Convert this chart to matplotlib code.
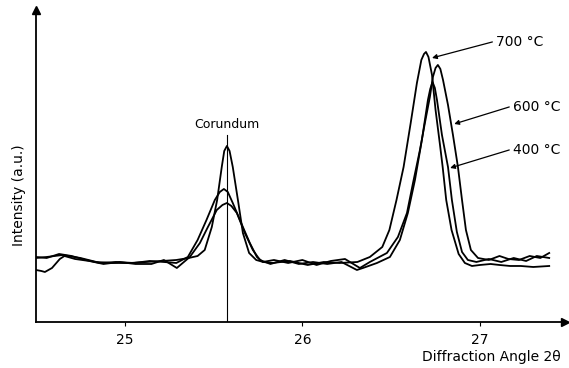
import numpy as np
import matplotlib
matplotlib.use("Agg")
from matplotlib import pyplot as plt

# XRD scans around the corundum reference peak
# (2-theta in degrees, intensity in arbitrary units)
theta_700 = [24.50, 24.56, 24.65, 24.75, 24.84, 24.93, 25.03, 25.12, 25.21, 25.29,
             25.36, 25.41, 25.45, 25.49, 25.52, 25.546, 25.56, 25.575, 25.59, 25.608,
             25.637, 25.665, 25.70, 25.74, 25.78, 25.83, 25.93, 26.03, 26.12, 26.21,
             26.31, 26.38, 26.45, 26.49, 26.53, 26.57, 26.61, 26.645, 26.67, 26.685,
             26.696, 26.71, 26.73, 26.75, 26.775, 26.79, 26.81, 26.84, 26.88, 26.915,
             26.955, 27.00, 27.06, 27.11, 27.17, 27.23, 27.30, 27.39]
inten_700 = [64, 65, 67, 64, 60, 59, 59, 60, 61, 62,
             64, 66, 72, 95, 122, 155, 171, 176, 171, 155,
             122, 89, 69, 62, 60, 59, 61, 57, 60, 59,
             60, 65, 75, 92, 122, 155, 199, 239, 262, 268,
             270, 265, 247, 212, 177, 155, 122, 92, 68, 59,
             56, 57, 58, 57, 56, 56, 55, 56]

theta_600 = [24.50, 24.56, 24.63, 24.70, 24.78, 24.86, 24.95, 25.05, 25.14, 25.22,
             25.29, 25.355, 25.41, 25.46, 25.507, 25.535, 25.558, 25.58, 25.608, 25.665,
             25.704, 25.744, 25.777, 25.84, 25.92, 26.00, 26.08, 26.16, 26.24, 26.324,
             26.38, 26.476, 26.538, 26.589, 26.623, 26.662, 26.69, 26.718, 26.735, 26.75,
             26.763, 26.777, 26.792, 26.82, 26.848, 26.876, 26.899, 26.921, 26.949, 26.989,
             27.05, 27.11, 27.16, 27.22, 27.28, 27.34, 27.39]
inten_600 = [65, 64, 68, 66, 62, 59, 60, 59, 61, 60,
             59, 65, 82, 102, 122, 130, 133, 130, 119, 95,
             79, 65, 60, 62, 59, 62, 57, 61, 63, 54,
             60, 69, 85, 109, 139, 172, 199, 225, 245, 254,
             257, 253, 242, 217, 187, 155, 122, 92, 72, 64,
             62, 66, 63, 62, 66, 64, 69]

theta_400 = [24.50, 24.53, 24.55, 24.59, 24.634, 24.66, 24.72, 24.80, 24.88, 24.97,
             25.06, 25.15, 25.22, 25.293, 25.366, 25.423, 25.468, 25.518, 25.55, 25.575,
             25.60, 25.631, 25.676, 25.721, 25.761, 25.82, 25.90, 25.98, 26.06, 26.14,
             26.22, 26.307, 26.341, 26.42, 26.493, 26.549, 26.594, 26.634, 26.673, 26.707,
             26.72, 26.733, 26.746, 26.758, 26.786, 26.82, 26.842, 26.87, 26.899, 26.932,
             26.98, 27.05, 27.12, 27.19, 27.26, 27.32, 27.39]
inten_400 = [52, 51, 50, 54, 63, 66, 63, 61, 58, 60,
             58, 58, 62, 54, 65, 79, 95, 112, 117, 119,
             116, 109, 89, 72, 62, 58, 62, 58, 60, 58,
             60, 52, 54, 59, 65, 82, 109, 142, 182, 222,
             233, 240, 234, 222, 187, 155, 122, 90, 70, 62,
             60, 63, 60, 64, 61, 66, 64]

corundum_pos = 25.575
xticks = [25, 26, 27]

# label text, arrow tip (theta, I), label anchor (theta, I)
temp_labels = ["700 °C", "600 °C", "400 °C"]
tips = [(26.73, 264), (26.855, 198), (26.832, 154)]
tails = [(27.07, 280), (27.165, 215), (27.165, 172)]

fig = plt.figure(figsize=(5.69, 3.68), dpi=100)
ax = fig.add_axes([0.0633, 0.125, 0.930, 0.848])

for th, it in [(theta_700, inten_700), (theta_600, inten_600), (theta_400, inten_400)]:
    ax.plot(th, it, color="black", lw=1.3, solid_joinstyle="round")

ax.plot([corundum_pos, corundum_pos], [0, 187], color="black", lw=0.8)
ax.text(corundum_pos, 197, "Corundum", ha="center", va="center", fontsize=9)

for lab, tip, tail in zip(temp_labels, tips, tails):
    ax.annotate("", xy=tip, xytext=tail,
                arrowprops=dict(arrowstyle="-|>", color="black", lw=0.9,
                                mutation_scale=7, shrinkA=0, shrinkB=0))
    ax.text(tail[0] + 0.02, tail[1], lab, ha="left", va="center", fontsize=10)

ax.set_xlim(24.50, 27.48)
ax.set_ylim(0, 312)
ax.spines["top"].set_visible(False)
ax.spines["right"].set_visible(False)
ax.spines["left"].set_linewidth(1.3)
ax.spines["bottom"].set_linewidth(1.3)
ax.set_yticks([])
ax.set_xticks(xticks)
ax.set_xticklabels([str(t) for t in xticks], fontsize=10)
ax.tick_params(axis="x", length=3, width=0.8, pad=5)

# arrow heads on the axes
ax.plot(1, 0, ">", color="black", ms=6, transform=ax.transAxes, clip_on=False)
ax.plot(0, 1, "^", color="black", ms=6, transform=ax.transAxes, clip_on=False)

fig.text(0.033, 0.47, "Intensity (a.u.)", rotation=90, ha="center", va="center",
         fontsize=10)
fig.text(0.985, 0.03, "Diffraction Angle 2θ", ha="right", va="center", fontsize=10)

fig.savefig("out.png", dpi=100)
